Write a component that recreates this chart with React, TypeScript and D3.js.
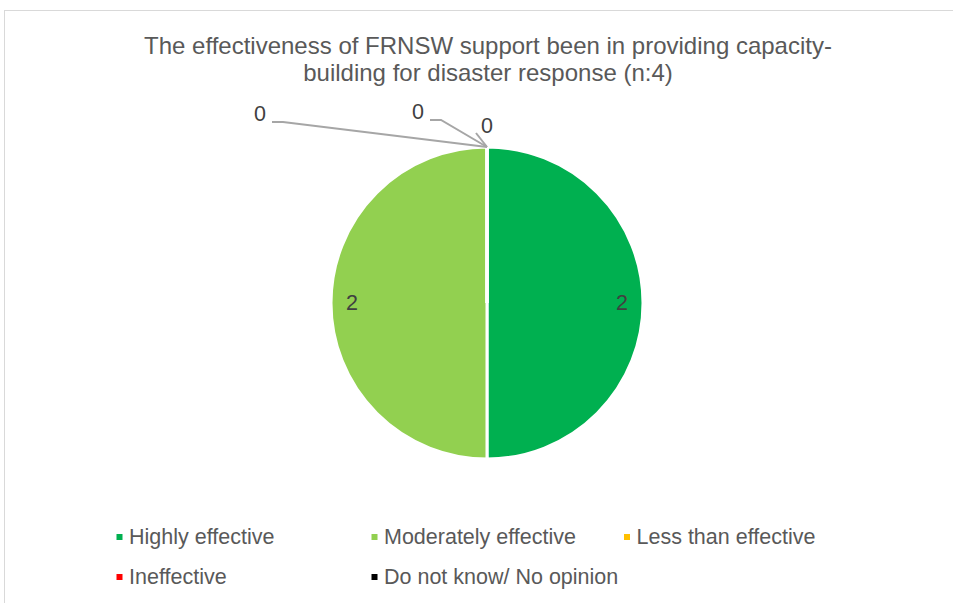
import React from "react";
import * as d3 from "d3";

const categories = [
  "Highly effective",
  "Moderately effective",
  "Less than effective",
  "Ineffective",
  "Do not know/ No opinion",
];
const values = [2, 2, 0, 0, 0];
const colors = ["#00B050", "#92D050", "#FFC000", "#FF0000", "#000000"];

// label callout offsets for the zero slices (dx, dy from the pie top)
const zeroLabelOffsets = [
  { dx: 0, dy: -21 },
  { dx: -69, dy: -35 },
  { dx: -227, dy: -33 },
];

function App() {
  const width = 953;
  const height = 603;
  const cx = 487;
  const cy = 303;
  const r = 156;

  const pie = d3
    .pie<number>()
    .sort(null)
    .startAngle(0)
    .endAngle(2 * Math.PI)
    .value((d) => d);
  const arcs = pie(values);

  const arc = d3.arc<d3.PieArcDatum<number>>().innerRadius(0).outerRadius(r);
  const labelArc = d3
    .arc<d3.PieArcDatum<number>>()
    .innerRadius(r * 0.865)
    .outerRadius(r * 0.865);

  const font = "Liberation Sans, Arial, sans-serif";
  const labelSize = 21.5;

  const legendCols = [119.5, 374.5, 627];
  const legendRows = [537, 577];

  let zi = 0;

  return (
    <svg
      width={width}
      height={height}
      style={{ position: "absolute", left: 0, top: 0 }}
    >
      <rect x={0} y={0} width={width} height={height} fill="#fff" />
      <rect
        x={4.5}
        y={10.5}
        width={width + 20}
        height={height + 20}
        fill="#fff"
        stroke="#d9d9d9"
      />

      {/* Title */}
      <text
        x={488}
        y={54}
        textAnchor="middle"
        fontFamily={font}
        fontSize={24}
        fill="#595959"
      >
        <tspan x={488}>The effectiveness of FRNSW support been in providing capacity-</tspan>
        <tspan x={488} dy={27}>building for disaster response (n:4)</tspan>
      </text>

      {/* Slices */}
      <g transform={`translate(${cx},${cy})`}>
        {arcs.map((a, i) => (
          <path
            key={categories[i]}
            d={arc(a) || ""}
            fill={colors[i]}
            stroke="#fff"
            strokeWidth={3}
          />
        ))}

        {/* Data labels */}
        {arcs.map((a, i) => {
          if (a.value > 0) {
            const [lx, ly] = labelArc.centroid(a);
            return (
              <text
                key={"l" + i}
                x={lx}
                y={ly}
                textAnchor="middle"
                dominantBaseline="central"
                fontFamily={font}
                fontSize={labelSize}
                fill="#404040"
              >
                {a.value}
              </text>
            );
          }
          const off = zeroLabelOffsets[zi++];
          const px = Math.sin(a.startAngle) * r;
          const py = -Math.cos(a.startAngle) * r;
          const tx = px + off.dx;
          const ty = py + off.dy;
          let leader = "";
          if (off.dx === 0) {
            leader = `M${px - 11},${py - 14}L${px},${py}`;
          } else {
            leader = `M${tx + 12},${ty + 8}L${tx + 23},${ty + 8}L${px},${py}`;
          }
          return (
            <g key={"l" + i}>
              <path d={leader} fill="none" stroke="#a6a6a6" strokeWidth={2} />
              <text
                x={tx}
                y={ty}
                textAnchor="middle"
                dominantBaseline="central"
                fontFamily={font}
                fontSize={labelSize}
                fill="#404040"
              >
                {a.value}
              </text>
            </g>
          );
        })}
      </g>

      {/* Legend */}
      {categories.map((c, i) => {
        const x = legendCols[i % 3];
        const y = legendRows[Math.floor(i / 3)];
        return (
          <g key={c}>
            <rect x={x - 3} y={y - 3} width={6} height={6} fill={colors[i]} />
            <text
              x={x + 9.5}
              y={y}
              dominantBaseline="central"
              fontFamily={font}
              fontSize={labelSize}
              fill="#595959"
            >
              {c}
            </text>
          </g>
        );
      })}
    </svg>
  );
}

export default App;
